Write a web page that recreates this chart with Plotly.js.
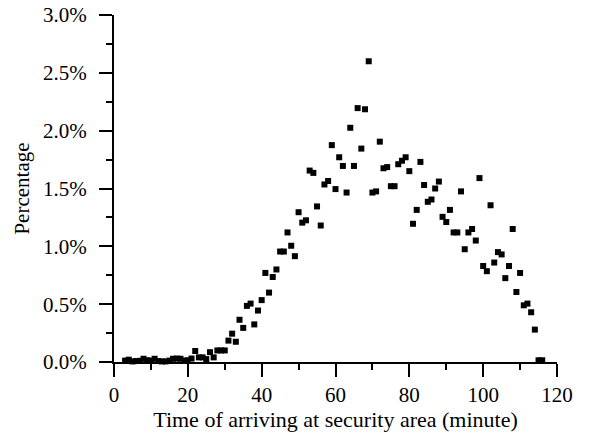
<!DOCTYPE html>
<html>
<head>
<meta charset="utf-8">
<script src="https://cdn.plot.ly/plotly-3.0.1.min.js"></script>
<style>
html,body{margin:0;padding:0;background:#fff;}
#chart{width:590px;height:439px;}
</style>
</head>
<body>
<div id="chart"></div>
<script>
const minutes = [3,4,5,6,7,8,9,10,11,12,13,14,15,16,17,18,19,20,21,22,23,24,25,26,27,28,29,30,31,32,33,34,35,36,37,38,39,40,41,42,43,44,45,46,47,48,49,50,51,52,53,54,55,56,57,58,59,60,61,62,63,64,65,66,67,68,69,70,71,72,73,74,75,76,77,78,79,80,81,82,83,84,85,86,87,88,89,90,91,92,93,94,95,96,97,98,99,100,101,102,103,104,105,106,107,108,109,110,111,112,113,114,115,116];
const percentage = [0.012,0.02,0.005,0.008,0.01,0.028,0.015,0.012,0.028,0.008,0.005,0.005,0.012,0.028,0.03,0.028,0.012,0.015,0.03,0.095,0.04,0.04,0.025,0.085,0.04,0.10,0.10,0.10,0.185,0.245,0.175,0.365,0.295,0.485,0.505,0.325,0.445,0.535,0.77,0.60,0.735,0.80,0.955,0.955,1.12,1.005,0.915,1.295,1.205,1.225,1.655,1.635,1.345,1.18,1.535,1.565,1.875,1.495,1.77,1.695,1.465,2.025,1.695,2.195,1.845,2.185,2.60,1.465,1.475,1.905,1.675,1.685,1.52,1.52,1.71,1.74,1.77,1.65,1.195,1.315,1.73,1.53,1.385,1.405,1.50,1.56,1.255,1.21,1.315,1.12,1.12,1.475,0.975,1.12,1.15,1.05,1.59,0.83,0.785,1.355,0.86,0.95,0.93,0.725,0.83,1.15,0.605,0.77,0.49,0.505,0.43,0.28,0.015,0.015];

const xTitle = "Time of arriving at security area (minute)";
const yTitle = "Percentage";

const font = {family: "Liberation Serif, Times New Roman, serif", size: 21, color: "#000"};
const xTitleFont = {family: "Liberation Serif, Times New Roman, serif", size: 22, color: "#000"};

Plotly.newPlot("chart", [{
  x: minutes,
  y: percentage,
  type: "scatter",
  mode: "markers",
  marker: {symbol: "square", size: 6, color: "#000"},
  cliponaxis: false,
  hoverinfo: "x+y"
}], {
  width: 590,
  height: 439,
  margin: {l: 114, r: 33, t: 15, b: 77, pad: 0},
  paper_bgcolor: "#fff",
  plot_bgcolor: "#fff",
  font: font,
  showlegend: false,
  xaxis: {
    range: [0, 120],
    dtick: 20,
    tick0: 0,
    ticks: "outside",
    ticklen: 13,
    tickwidth: 2,
    tickcolor: "#000",
    showline: true,
    linewidth: 2,
    linecolor: "#000",
    showgrid: false,
    zeroline: false,
    minor: {ticks: "outside", ticklen: 6, tickwidth: 2, tickcolor: "#000", dtick: 10, tick0: 0, showgrid: false},
    tickfont: font,
    title: {text: xTitle, font: xTitleFont, standoff: 5}
  },
  yaxis: {
    range: [0, 3],
    dtick: 0.5,
    tick0: 0,
    tickformat: ".1f",
    ticksuffix: "%",
    ticks: "outside",
    ticklen: 13,
    tickwidth: 2,
    tickcolor: "#000",
    showline: true,
    linewidth: 2,
    linecolor: "#000",
    showgrid: false,
    zeroline: false,
    minor: {ticks: "outside", ticklen: 6, tickwidth: 2, tickcolor: "#000", dtick: 0.25, tick0: 0, showgrid: false},
    tickfont: font,
    ticklabelstandoff: 8,
    title: {text: yTitle, font: font, standoff: 8}
  }
}, {displayModeBar: false, staticPlot: true});
</script>
</body>
</html>
